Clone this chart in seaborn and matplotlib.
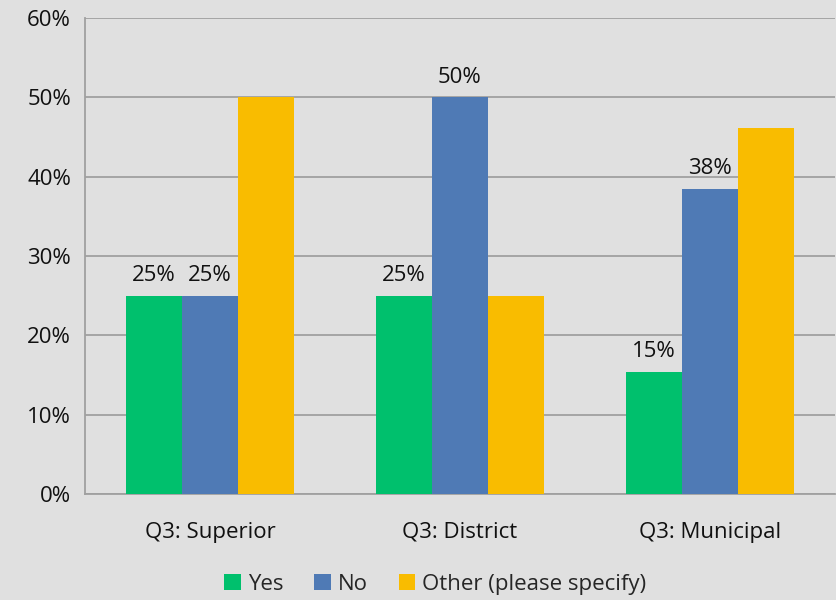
import matplotlib
matplotlib.use("Agg")
import matplotlib.pyplot as plt
from matplotlib.patches import Patch
from matplotlib.ticker import FixedLocator, PercentFormatter
import pandas as pd
import seaborn as sns

categories = ["Q3: Superior", "Q3: District", "Q3: Municipal"]
responses = ["Yes", "No", "Other (please specify)"]
yes_vals = [25.0, 25.0, 15.38]
no_vals = [25.0, 50.0, 38.46]
other_vals = [50.0, 25.0, 46.15]
colors = ["#00c06d", "#4f7ab5", "#f9bc00"]

df = pd.DataFrame({
    "category": categories * 3,
    "response": [r for r in responses for _ in categories],
    "value": yes_vals + no_vals + other_vals,
})

sns.set_theme(style="white")
plt.rcParams["font.family"] = ["Open Sans", "DejaVu Sans"]
bg = "#e0e0e0"
grid_c = "#a0a0a0"
fs = 16

fig = plt.figure(figsize=(8.37, 6.0), dpi=100, facecolor=bg)
ax = fig.add_axes([85 / 837, 1 - 494 / 600, 750 / 837, 476 / 600])
ax.set_facecolor(bg)

sns.barplot(data=df, x="category", y="value", hue="response", order=categories,
            hue_order=responses, palette=colors, saturation=1, width=0.67,
            linewidth=0, edgecolor="none", ax=ax, legend=False, zorder=3)

# data labels only for Yes and No
for container, resp in zip(ax.containers, responses):
    if resp == "Other (please specify)":
        continue
    ax.bar_label(container, labels=[f"{v:.0f}%" for v in container.datavalues],
                 padding=7, fontsize=fs, color="#111111")

ax.set_ylim(0, 60)
ax.set_xlim(-0.5, 2.5)
ax.yaxis.set_major_formatter(PercentFormatter(decimals=0))
ax.set_yticks(range(0, 61, 10))
ax.yaxis.grid(True, color=grid_c, linewidth=1.3, zorder=0)
ax.set_axisbelow(True)
ax.set_xlabel("")
ax.set_ylabel("")

ax.tick_params(axis="y", labelsize=fs, labelcolor="#111111", length=7, color=grid_c,
               width=1.3, pad=3)
ax.tick_params(axis="x", which="major", labelsize=fs, labelcolor="#111111", length=0, pad=20)
ax.xaxis.set_minor_locator(FixedLocator([-0.5, 0.5, 1.5, 2.5]))
ax.tick_params(axis="x", which="minor", length=7, color=grid_c, width=1.3)

for side in ["top", "right"]:
    ax.spines[side].set_visible(False)
for side in ["left", "bottom"]:
    ax.spines[side].set_color(grid_c)
    ax.spines[side].set_linewidth(1.3)

handles = [Patch(facecolor=c, edgecolor="none", label=r) for c, r in zip(colors, responses)]
fig.legend(handles=handles, loc="lower center", bbox_to_anchor=(0.52, -0.025), ncol=3,
           frameon=False, fontsize=fs, handlelength=0.75, handleheight=0.75,
           handletextpad=0.3, columnspacing=1.4)

fig.savefig("out.png", dpi=100, facecolor=bg)
